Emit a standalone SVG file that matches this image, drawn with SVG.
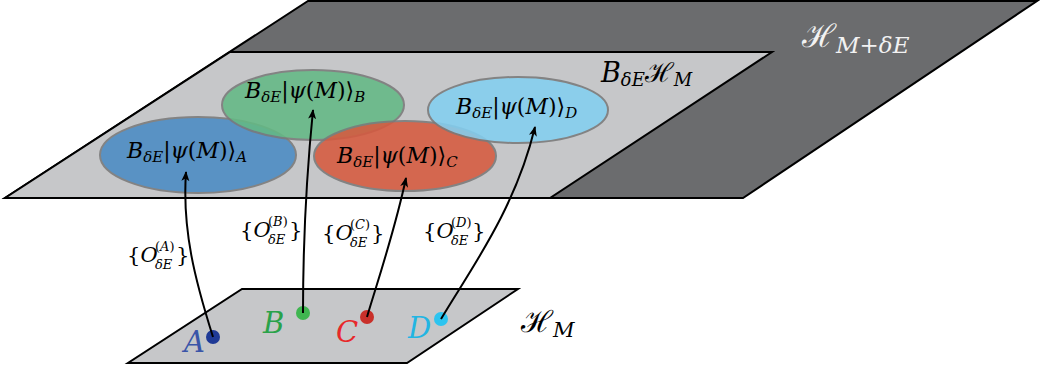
<svg xmlns="http://www.w3.org/2000/svg" width="1045" height="370" viewBox="0 0 1045 370">
<style>
.plane{stroke:#000;stroke-width:2;stroke-linejoin:miter}
.ell{stroke:#7a7a7a;stroke-width:2;opacity:0.88}
.m{font-family:"DejaVu Serif","Liberation Serif",serif;font-style:italic;fill:#000}
.up{font-style:normal}
.cal{font-family:"DejaVu Serif","Liberation Serif",serif;font-style:normal}
.conn{fill:none;stroke:#000;stroke-width:2}
</style>
<defs>
<marker id="arr" viewBox="0 0 10 10" refX="9" refY="5" markerWidth="10" markerHeight="10" markerUnits="userSpaceOnUse" orient="auto">
<path d="M0,1 L10,5 L0,9 L2.5,5 Z" fill="#000"/>
</marker>
</defs>

<g id="plane-HMdE">
<polygon class="plane" points="308,1 1037,1 743,198 5,198" fill="#6b6c6e"/>
<text x="802" y="47" class="m" font-size="32" style="fill:#f2f2f2"><tspan class="cal">ℋ</tspan><tspan font-size="23" dy="6">M</tspan><tspan font-size="23" class="up">+</tspan><tspan font-size="23">δE</tspan></text>
</g>

<g id="plane-BdEHM">
<polygon class="plane" points="230,52 772,52 550,198 5,198" fill="#c6c7c9"/>
<text x="601" y="82" class="m" font-size="27">B<tspan font-size="18" dy="4">δE</tspan><tspan class="cal" dy="-4">ℋ</tspan><tspan font-size="18" dy="4">M</tspan></text>
</g>

<g id="state-A">
<ellipse class="ell" cx="198" cy="155" rx="98" ry="38" fill="#4a8bc4"/>
<text x="127" y="158" class="m" font-size="22">B<tspan font-size="15" dy="4">δE</tspan><tspan class="up" dy="-4">|</tspan>ψ<tspan class="up">(</tspan>M<tspan class="up">)⟩</tspan><tspan font-size="15" dy="4">A</tspan></text>
</g>

<g id="state-B">
<ellipse class="ell" cx="313" cy="105" rx="91" ry="35" fill="#64b985"/>
<text x="245" y="98" class="m" font-size="22">B<tspan font-size="15" dy="4">δE</tspan><tspan class="up" dy="-4">|</tspan>ψ<tspan class="up">(</tspan>M<tspan class="up">)⟩</tspan><tspan font-size="15" dy="4">B</tspan></text>
</g>

<g id="state-C">
<ellipse class="ell" cx="405" cy="156" rx="91" ry="35" fill="#d65a3f"/>
<text x="337" y="163" class="m" font-size="22">B<tspan font-size="15" dy="4">δE</tspan><tspan class="up" dy="-4">|</tspan>ψ<tspan class="up">(</tspan>M<tspan class="up">)⟩</tspan><tspan font-size="15" dy="4">C</tspan></text>
</g>

<g id="state-D">
<ellipse class="ell" cx="518" cy="110" rx="90" ry="33" fill="#84cff0"/>
<text x="456" y="114" class="m" font-size="22">B<tspan font-size="15" dy="4">δE</tspan><tspan class="up" dy="-4">|</tspan>ψ<tspan class="up">(</tspan>M<tspan class="up">)⟩</tspan><tspan font-size="15" dy="4">D</tspan></text>
</g>

<g id="plane-HM">
<polygon class="plane" points="242,289 518,289 407,363 128,363" fill="#c6c7c9"/>
<text x="521" y="332" class="m" font-size="30"><tspan class="cal">ℋ</tspan><tspan font-size="21" dy="5">M</tspan></text>
</g>

<g id="point-A">
<circle cx="213" cy="337" r="7" fill="#1f3a96"/>
<text x="184" y="352" class="m" font-size="29" style="fill:#3a55a8">A</text>
</g>
<g id="point-B">
<circle cx="303" cy="313" r="7" fill="#3fb650"/>
<text x="263" y="333" class="m" font-size="29" style="fill:#2aa24a">B</text>
</g>
<g id="point-C">
<circle cx="367" cy="317" r="7" fill="#c9302a"/>
<text x="336" y="342" class="m" font-size="29" style="fill:#e8282a">C</text>
</g>
<g id="point-D">
<circle cx="441" cy="319" r="7" fill="#2cc4f0"/>
<text x="408" y="338" class="m" font-size="29" style="fill:#22b5e3">D</text>
</g>

<g id="connectors">
<path class="conn" d="M213,337 C195,280 182,230 186,172" marker-end="url(#arr)"/>
<path class="conn" d="M303,313 C303,260 306,180 313,110" marker-end="url(#arr)"/>
<path class="conn" d="M367,317 C378,280 395,230 406,178" marker-end="url(#arr)"/>
<path class="conn" d="M441,319 C470,270 515,210 535,127" marker-end="url(#arr)"/>
<text x="127" y="262" class="m" font-size="21"><tspan class="up">{</tspan>O<tspan font-size="13" x="155" dy="-11" class="up">(</tspan><tspan font-size="13">A</tspan><tspan font-size="13" class="up">)</tspan><tspan font-size="13" x="155" dy="18">δE</tspan><tspan class="up" x="176" dy="-7">}</tspan></text>
<text x="240" y="237" class="m" font-size="21"><tspan class="up">{</tspan>O<tspan font-size="13" x="268" dy="-11" class="up">(</tspan><tspan font-size="13">B</tspan><tspan font-size="13" class="up">)</tspan><tspan font-size="13" x="268" dy="18">δE</tspan><tspan class="up" x="289" dy="-7">}</tspan></text>
<text x="322" y="240" class="m" font-size="21"><tspan class="up">{</tspan>O<tspan font-size="13" x="350" dy="-11" class="up">(</tspan><tspan font-size="13">C</tspan><tspan font-size="13" class="up">)</tspan><tspan font-size="13" x="350" dy="18">δE</tspan><tspan class="up" x="371" dy="-7">}</tspan></text>
<text x="423" y="238" class="m" font-size="21"><tspan class="up">{</tspan>O<tspan font-size="13" x="451" dy="-11" class="up">(</tspan><tspan font-size="13">D</tspan><tspan font-size="13" class="up">)</tspan><tspan font-size="13" x="451" dy="18">δE</tspan><tspan class="up" x="472" dy="-7">}</tspan></text>
</g>
</svg>
